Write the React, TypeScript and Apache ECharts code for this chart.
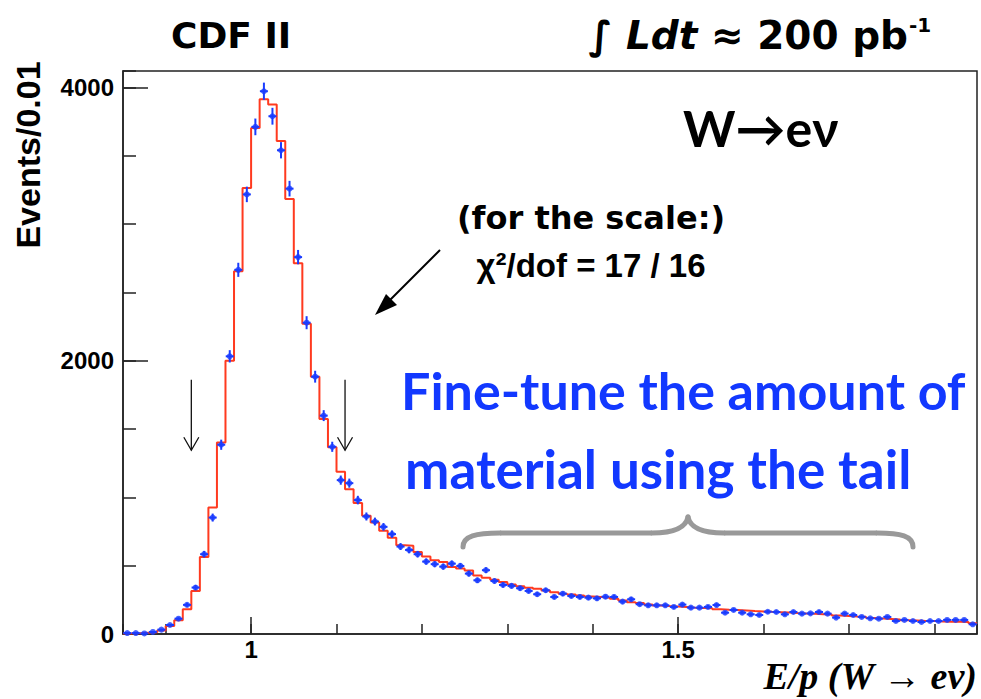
import React, { useEffect, useRef } from "react";
import * as echarts from "echarts";

// Histogram binning: E/p from 0.85 to 1.85 in bins of 0.01
const BIN_LOW = 0.85;
const BIN_WIDTH = 0.01;
const X_MIN = 0.85;
const X_MAX = 1.85;
const Y_MAX = 4120;

const xTickLabels = ["1", "1.5"];
const yTickLabels = ["0", "2000", "4000"];

// Simulation (red histogram), events per bin
const modelCounts = [
  4, 5, 10, 12, 25, 59, 100, 181, 315, 564,
  926, 1402, 2000, 2655, 3264, 3703, 3914, 3875, 3608, 3183,
  2714, 2270, 1883, 1573, 1366, 1187, 1060, 958, 865, 816,
  755, 704, 650, 645, 600, 568, 539, 526, 490, 480,
  465, 429, 412, 397, 380, 363, 350, 339, 331, 319,
  306, 295, 289, 282, 275, 270, 265, 258, 246, 232,
  226, 216, 209, 205, 202, 198, 193, 190, 188, 182,
  178, 175, 172, 168, 165, 162, 160, 157, 153, 150,
  148, 145, 142, 135, 132, 128, 126, 118, 113, 110,
  107, 100, 98, 96, 95, 92, 90, 89, 88, 78,
];

// Data (blue points), events per bin
const dataCounts = [
  7, 7, 4, 15, 32, 66, 112, 213, 340, 584,
  852, 1385, 2032, 2665, 3217, 3711, 3972, 3789, 3540, 3259,
  2758, 2278, 1883, 1598, 1370, 1126, 1104, 980, 860, 823,
  784, 731, 640, 615, 584, 530, 511, 493, 515, 498,
  442, 393, 467, 388, 359, 352, 335, 315, 291, 320,
  271, 295, 278, 271, 266, 261, 273, 271, 237, 254,
  218, 210, 210, 210, 198, 215, 193, 193, 198, 212,
  156, 176, 156, 144, 139, 163, 161, 144, 161, 149,
  151, 161, 149, 120, 149, 139, 125, 115, 112, 125,
  95, 103, 95, 88, 95, 95, 103, 103, 103, 71,
];

// Analysis window marks (E/p values)
const windowMarks = [0.93, 1.11];

const BLUE = "#1a3cff";
const RED = "#ff3a1f";
const AXIS = "#222222";
const COMIC = 'Lato, "DejaVu Sans", sans-serif';
const DEJA = '"DejaVu Sans", sans-serif';
const HELV = '"Liberation Sans", Arial, sans-serif';
const TIMES = '"Liberation Serif", "Times New Roman", serif';

function txt(text: string, x: number, y: number, opts: any = {}) {
  const align = opts.align || "left";
  const valign = opts.valign || "middle";
  return {
    type: "text",
    x,
    y,
    rotation: opts.rotation || 0,
    z: 100,
    style: {
      text,
      fill: opts.fill || "#000",
      fontSize: opts.fontSize || 20,
      fontWeight: opts.fontWeight || "bold",
      fontStyle: opts.fontStyle || "normal",
      fontFamily: opts.fontFamily || COMIC,
      align,
      verticalAlign: valign,
      textAlign: align,
      textVerticalAlign: valign,
      rich: opts.rich,
    },
  };
}

export default function App() {
  const ref = useRef<HTMLDivElement>(null);

  useEffect(() => {
    if (!ref.current) return;
    const chart = echarts.init(ref.current, undefined, { renderer: "svg" });

    const stepData: number[][] = modelCounts.map((v, i) => [BIN_LOW + i * BIN_WIDTH, v]);
    stepData.push([BIN_LOW + modelCounts.length * BIN_WIDTH, modelCounts[modelCounts.length - 1]]);

    const pointData = dataCounts.map((v, i) => [BIN_LOW + (i + 0.5) * BIN_WIDTH, v, Math.sqrt(v)]);

    const axisLineStyle = { color: AXIS, width: 1.5 };

    const xFmt = (v: number) => {
      const s = String(Math.round(v * 100) / 100);
      return xTickLabels.indexOf(s) >= 0 ? s : "";
    };
    const yFmt = (v: number) => {
      const s = String(Math.round(v));
      return yTickLabels.indexOf(s) >= 0 ? s : "";
    };

    const baseX = {
      type: "value",
      min: X_MIN,
      max: X_MAX,
      position: "bottom",
      splitLine: { show: false },
      axisLine: { show: true, onZero: false, lineStyle: axisLineStyle },
    };
    const baseY = {
      type: "value",
      min: 0,
      max: Y_MAX,
      position: "left",
      splitLine: { show: false },
      axisLine: { show: true, onZero: false, lineStyle: axisLineStyle },
    };

    const option: any = {
      animation: false,
      backgroundColor: "#ffffff",
      grid: {
        left: 123,
        right: 4,
        top: 71,
        bottom: 65,
        show: true,
        borderColor: AXIS,
        borderWidth: 1.5,
        backgroundColor: "transparent",
      },
      xAxis: [
        {
          ...baseX,
          minInterval: 0.1,
          maxInterval: 0.1,
          axisTick: { show: true, inside: true, length: 10, lineStyle: axisLineStyle },
          axisLabel: { show: false },
        },
        {
          ...baseX,
          minInterval: 0.5,
          maxInterval: 0.5,
          axisLine: { show: false },
          axisTick: { show: true, inside: true, length: 17, lineStyle: axisLineStyle },
          axisLabel: {
            show: true,
            showMinLabel: false,
            showMaxLabel: false,
            formatter: xFmt,
            margin: 3,
            color: "#000",
            fontSize: 24,
            fontWeight: "bold",
            fontFamily: HELV,
          },
        },
      ],
      yAxis: [
        {
          ...baseY,
          minInterval: 500,
          maxInterval: 500,
          axisTick: { show: true, inside: true, length: 13, lineStyle: axisLineStyle },
          axisLabel: { show: false },
        },
        {
          ...baseY,
          minInterval: 2000,
          maxInterval: 2000,
          axisLine: { show: false },
          axisTick: { show: true, inside: true, length: 25, lineStyle: axisLineStyle },
          axisLabel: {
            show: true,
            showMaxLabel: false,
            formatter: yFmt,
            margin: 9,
            color: "#000",
            fontSize: 24,
            fontWeight: "bold",
            fontFamily: HELV,
          },
        },
      ],
      series: [
        {
          type: "line",
          name: "simulation",
          xAxisIndex: 0,
          yAxisIndex: 0,
          step: "end",
          symbol: "none",
          data: stepData,
          lineStyle: { color: RED, width: 2 },
          z: 2,
        },
        {
          type: "custom",
          name: "errors",
          xAxisIndex: 0,
          yAxisIndex: 0,
          data: pointData,
          encode: { x: 0, y: 1 },
          z: 3,
          renderItem: (params: any, api: any) => {
            const x = api.value(0);
            const y = api.value(1);
            const e = api.value(2);
            const l = api.coord([x - BIN_WIDTH * 0.47, y]);
            const r = api.coord([x + BIN_WIDTH * 0.47, y]);
            const t = api.coord([x, y + e]);
            const b = api.coord([x, Math.max(0, y - e)]);
            return {
              type: "group",
              children: [
                { type: "line", shape: { x1: l[0], y1: l[1], x2: r[0], y2: r[1] }, style: { stroke: BLUE, lineWidth: 2 } },
                { type: "line", shape: { x1: t[0], y1: t[1], x2: b[0], y2: b[1] }, style: { stroke: BLUE, lineWidth: 2 } },
              ],
            };
          },
        },
        {
          type: "scatter",
          name: "data",
          xAxisIndex: 0,
          yAxisIndex: 0,
          data: pointData.map((d) => [d[0], d[1]]),
          symbol: "circle",
          symbolSize: 6,
          itemStyle: { color: BLUE },
          z: 4,
        },
      ],
      graphic: [],
    };

    chart.setOption(option);

    // arrows marking the window, positioned from data coordinates
    const arrows: any[] = [];
    windowMarks.forEach((xv) => {
      const top = chart.convertToPixel({ xAxisIndex: 0, yAxisIndex: 0 }, [xv, 1860]) as number[];
      const bot = chart.convertToPixel({ xAxisIndex: 0, yAxisIndex: 0 }, [xv, 1345]) as number[];
      const px = top[0];
      arrows.push({
        type: "line",
        z: 100,
        shape: { x1: px, y1: top[1], x2: px, y2: bot[1] },
        style: { stroke: "#111", lineWidth: 1.3 },
      });
      arrows.push({
        type: "polyline",
        z: 100,
        shape: { points: [[px - 7.5, bot[1] - 13], [px, bot[1]], [px + 7.5, bot[1] - 13]] },
        style: { stroke: "#111", lineWidth: 1.3, fill: "none" },
      });
    });

    const graphics: any[] = [
      ...arrows,
      // header
      txt("CDF II", 171, 35, { fontSize: 36, fontFamily: DEJA }),
      txt("{n|∫ }{i|Ldt}{n| ≈ 200 pb}", 908, 35, {
        align: "right",
        fontSize: 39,
        fontFamily: DEJA,
        rich: {
          n: { fontSize: 39, fontWeight: "bold", fontFamily: DEJA, fill: "#000" },
          i: { fontSize: 39, fontWeight: "bold", fontStyle: "italic", fontFamily: DEJA, fill: "#000" },
        },
      }),
      txt("-1", 909, 25, { fontSize: 20, fontFamily: DEJA }),
      // process label
      txt("W→eν", 683, 128, { fontSize: 50 }),
      // fit annotation
      txt("(for the scale:)", 591, 218, { align: "center", fontSize: 32, fontFamily: DEJA }),
      txt("χ²/dof = 17 / 16", 591, 265, { align: "center", fontSize: 33, fontFamily: HELV }),
      // big arrow
      {
        type: "line",
        z: 100,
        shape: { x1: 440, y1: 250, x2: 389, y2: 301 },
        style: { stroke: "#000", lineWidth: 2 },
      },
      {
        type: "polygon",
        z: 100,
        shape: { points: [[375, 315], [386, 294], [397, 305]] },
        style: { fill: "#000" },
      },
      // blue comment
      txt("Fine-tune the amount of", 401, 390, { fontSize: 52, fill: "#1238ff" }),
      txt("material using the tail", 405, 468, { fontSize: 53, fill: "#1238ff" }),
      // gray brace
      {
        type: "group",
        z: 90,
        children: [
          { type: "bezierCurve", shape: { x1: 463, y1: 547, cpx1: 463, cpy1: 536, cpx2: 476, cpy2: 533, x2: 500, y2: 533 }, style: { stroke: "#999", lineWidth: 5, fill: "none", lineCap: "round" } },
          { type: "line", shape: { x1: 500, y1: 533, x2: 652, y2: 533 }, style: { stroke: "#999", lineWidth: 5 } },
          { type: "bezierCurve", shape: { x1: 652, y1: 533, cpx1: 676, cpy1: 533, cpx2: 686, cpy2: 527, x2: 688, y2: 517 }, style: { stroke: "#999", lineWidth: 5, fill: "none", lineCap: "round" } },
          { type: "bezierCurve", shape: { x1: 688, y1: 517, cpx1: 690, cpy1: 527, cpx2: 700, cpy2: 533, x2: 724, y2: 533 }, style: { stroke: "#999", lineWidth: 5, fill: "none", lineCap: "round" } },
          { type: "line", shape: { x1: 724, y1: 533, x2: 877, y2: 533 }, style: { stroke: "#999", lineWidth: 5 } },
          { type: "bezierCurve", shape: { x1: 877, y1: 533, cpx1: 901, cpy1: 533, cpx2: 913, cpy2: 536, x2: 913, y2: 547 }, style: { stroke: "#999", lineWidth: 5, fill: "none", lineCap: "round" } },
        ],
      },
      // axis titles
      txt("Events/0.01", 28, 155, { align: "center", fontSize: 34, fontFamily: HELV, rotation: Math.PI / 2 }),
      txt("E/p (W → eν)", 977, 676, { align: "right", fontSize: 38, fontStyle: "italic", fontFamily: TIMES }),
    ];

    chart.setOption({ graphic: graphics });

    return () => chart.dispose();
  }, []);

  return (
    <div
      ref={ref}
      style={{ position: "fixed", left: 0, top: 0, width: 981, height: 699, background: "#fff" }}
    />
  );
}
